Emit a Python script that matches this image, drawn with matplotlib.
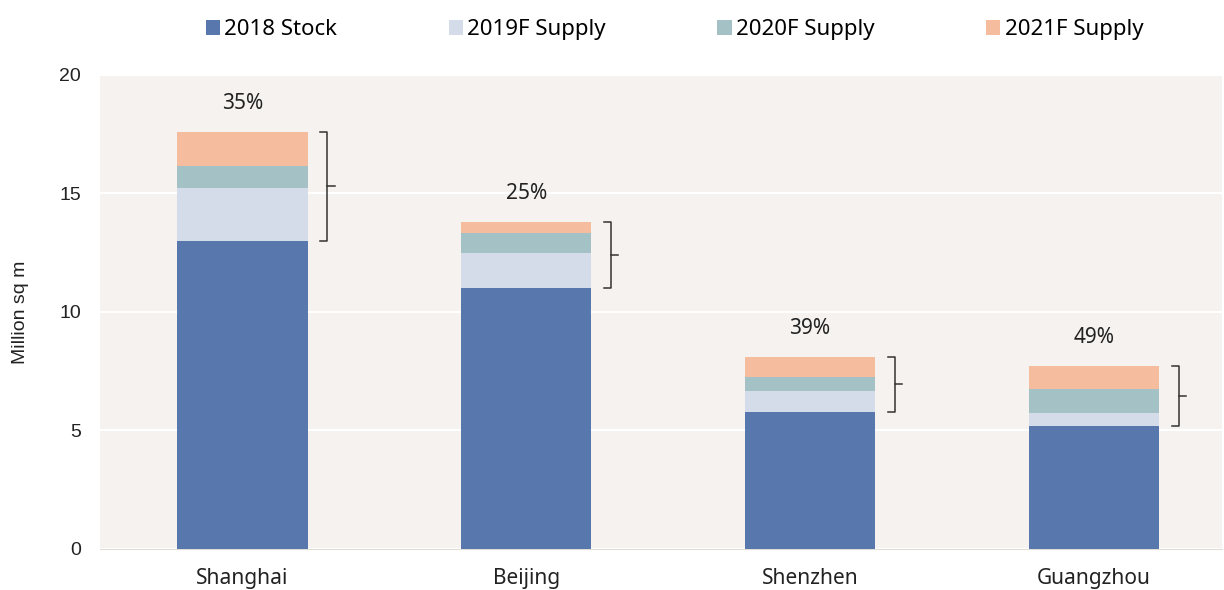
import numpy as np
import matplotlib.pyplot as plt

plt.rcParams['font.family'] = ['Noto Sans', 'DejaVu Sans']

cities = ['Shanghai', 'Beijing', 'Shenzhen', 'Guangzhou']
stock_2018 = [13.0, 11.0, 5.78, 5.19]
supply_2019 = [2.23, 1.48, 0.89, 0.55]
supply_2020 = [0.93, 0.84, 0.59, 1.01]
supply_2021 = [1.43, 0.47, 0.84, 0.97]
pct_labels = ['35%', '25%', '39%', '49%']
y_ticks = [0, 5, 10, 15, 20]

series = [stock_2018, supply_2019, supply_2020, supply_2021]
names = ['2018 Stock', '2019F Supply', '2020F Supply', '2021F Supply']
colors = ['#5877ad', '#d5dce9', '#a4c2c6', '#f6bc9e']
arial = ['Liberation Sans', 'DejaVu Sans']

fig = plt.figure(figsize=(12.24, 5.9), dpi=100)
ax = fig.add_axes([0.082, 0.07, 0.916, 0.803])
ax.set_facecolor('#f6f2ef')

x = np.arange(len(cities))
w = 0.46
bottom = np.zeros(len(cities))
for vals, name, c in zip(series, names, colors):
    ax.bar(x, vals, w, bottom=bottom, color=c, label=name, zorder=3)
    bottom += np.array(vals)

# brackets showing added supply
for i in range(len(cities)):
    lo = stock_2018[i]
    hi = bottom[i]
    bx = x[i] + 0.30
    ax.plot([bx - 0.025, bx, bx, bx - 0.025], [hi, hi, lo, lo], color='#333333', lw=1.1, zorder=4)
    ax.plot([bx, bx + 0.025], [(lo + hi) / 2] * 2, color='#333333', lw=1.1, zorder=4)
    ax.text(x[i], hi + 1.2, pct_labels[i], ha='center', va='center', fontsize=15, color='#222222')

ax.set_xlim(-0.5, 3.45)
ax.set_ylim(0, 20)
ax.set_yticks(y_ticks, labels=[str(v) for v in y_ticks], fontfamily=arial, fontsize=14)
ax.grid(axis='y', color='white', lw=1.5, zorder=0)
ax.set_xticks(x, labels=cities, fontsize=15)
ax.tick_params(length=0, colors='#222222')
ax.tick_params(axis='x', pad=14)
ax.tick_params(axis='y', pad=14)
for s in ['top', 'right', 'left']:
    ax.spines[s].set_visible(False)
ax.spines['bottom'].set_color('#e0dcd8')
ax.set_ylabel('Million sq m', fontsize=14, color='#222222', labelpad=22, family=arial)

ax.legend(loc='center', bbox_to_anchor=(0.512, 1.095), ncol=4, frameon=False,
          fontsize=16, handlelength=0.65, handleheight=0.65, handletextpad=0.2,
          columnspacing=5.0)

fig.savefig('out.png', dpi=100, facecolor='white')
